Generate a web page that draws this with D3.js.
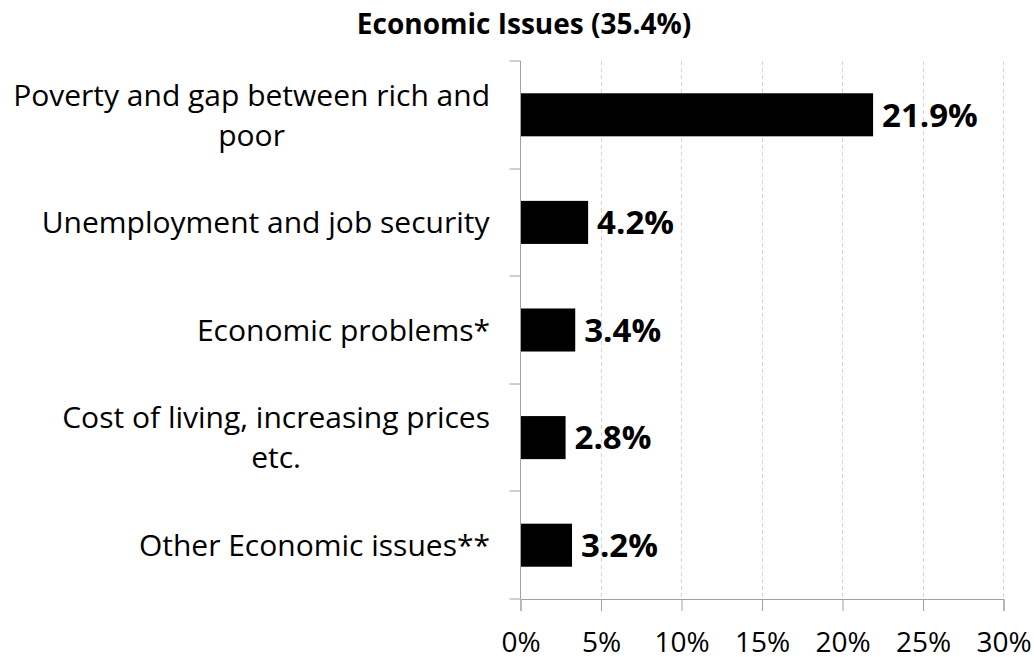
<!DOCTYPE html>
<html>
<head>
<meta charset="utf-8">
<script src="https://cdn.jsdelivr.net/npm/d3@7"></script>
<style>
  body { margin: 0; background: #fff; }
  text { font-family: "Open Sans", "Noto Sans", sans-serif; fill: #000; }
</style>
</head>
<body>
<div id="chart"></div>
<script>
const title = 'Economic Issues (35.4%)';
const categories = [
  ['Poverty and gap between rich and', 'poor'],
  ['Unemployment and job security'],
  ['Economic problems*'],
  ['Cost of living, increasing prices', 'etc.'],
  ['Other Economic issues**']
];
const values = [21.9, 4.2, 3.4, 2.8, 3.2];
const xTicks = [0, 5, 10, 15, 20, 25, 30];

const width = 1034, height = 657;
const margin = { top: 61, right: 31, bottom: 58, left: 520 };
const cW = width - margin.left - margin.right;
const cH = height - margin.top - margin.bottom;

const svg = d3.select('#chart').append('svg')
  .attr('width', width).attr('height', height);

const x = d3.scaleLinear().domain([0, 30]).range([0, cW]);
const y = d3.scaleBand().domain(d3.range(categories.length)).range([0, cH])
  .paddingInner(0.6).paddingOuter(0.3);

const g = svg.append('g').attr('transform', `translate(${margin.left + 0.5},${margin.top})`);

// grid
g.selectAll('line.grid').data(xTicks.slice(1)).enter().append('line')
  .attr('class', 'grid')
  .attr('x1', d => Math.round(x(d))).attr('x2', d => Math.round(x(d)))
  .attr('y1', 0).attr('y2', cH)
  .attr('stroke', '#d4d4d4').attr('stroke-dasharray', '4,3');

// bars
g.selectAll('rect.bar').data(values).enter().append('rect')
  .attr('class', 'bar')
  .attr('x', 0).attr('y', (d, i) => y(i))
  .attr('width', d => x(d)).attr('height', y.bandwidth())
  .attr('fill', '#000');

// value labels
g.selectAll('text.val').data(values).enter().append('text')
  .attr('class', 'val')
  .attr('x', d => x(d) + 9).attr('y', (d, i) => y(i) + y.bandwidth() / 2)
  .attr('dy', '0.36em')
  .attr('font-size', 33).attr('font-weight', 'bold')
  .text(d => d.toFixed(1) + '%');

// y axis line + ticks between categories
const boundaries = d3.range(categories.length + 1).map(i => i * cH / categories.length);
g.append('line').attr('x1', 0).attr('x2', 0).attr('y1', 0).attr('y2', cH)
  .attr('stroke', '#a0a0a0');
g.selectAll('line.ytick').data(boundaries).enter().append('line')
  .attr('x1', -11).attr('x2', 0)
  .attr('y1', d => Math.round(d)).attr('y2', d => Math.round(d))
  .attr('stroke', '#a0a0a0');

// x axis
const xAxis = g.append('g').attr('transform', `translate(0,${Math.round(cH)})`)
  .call(d3.axisBottom(x).tickValues(xTicks).tickSize(12).tickPadding(21)
    .tickFormat(d => d + '%'));
xAxis.select('.domain').attr('stroke', '#a0a0a0');
xAxis.selectAll('.tick line').attr('stroke', '#a0a0a0');
xAxis.selectAll('.tick text').attr('font-size', 28).attr('font-family', '"Open Sans", sans-serif')
  .attr('fill', '#000');

// category labels
const labelRight = 490;
categories.forEach((lines, i) => {
  const cy = margin.top + y(i) + y.bandwidth() / 2;
  const t = svg.append('text').attr('font-size', 30).attr('text-anchor', 'middle');
  const lh = 40;
  lines.forEach((s, k) => {
    t.append('tspan').attr('x', 0)
      .attr('y', cy + (k - (lines.length - 1) / 2) * lh).attr('dy', '0.36em').text(s);
  });
  const w = t.node().getBBox().width;
  t.selectAll('tspan').attr('x', labelRight - w / 2);
});

// title
svg.append('text').attr('x', 524).attr('y', 34)
  .attr('text-anchor', 'middle').attr('font-size', 28).attr('font-weight', 'bold')
  .text(title);
</script>
</body>
</html>
